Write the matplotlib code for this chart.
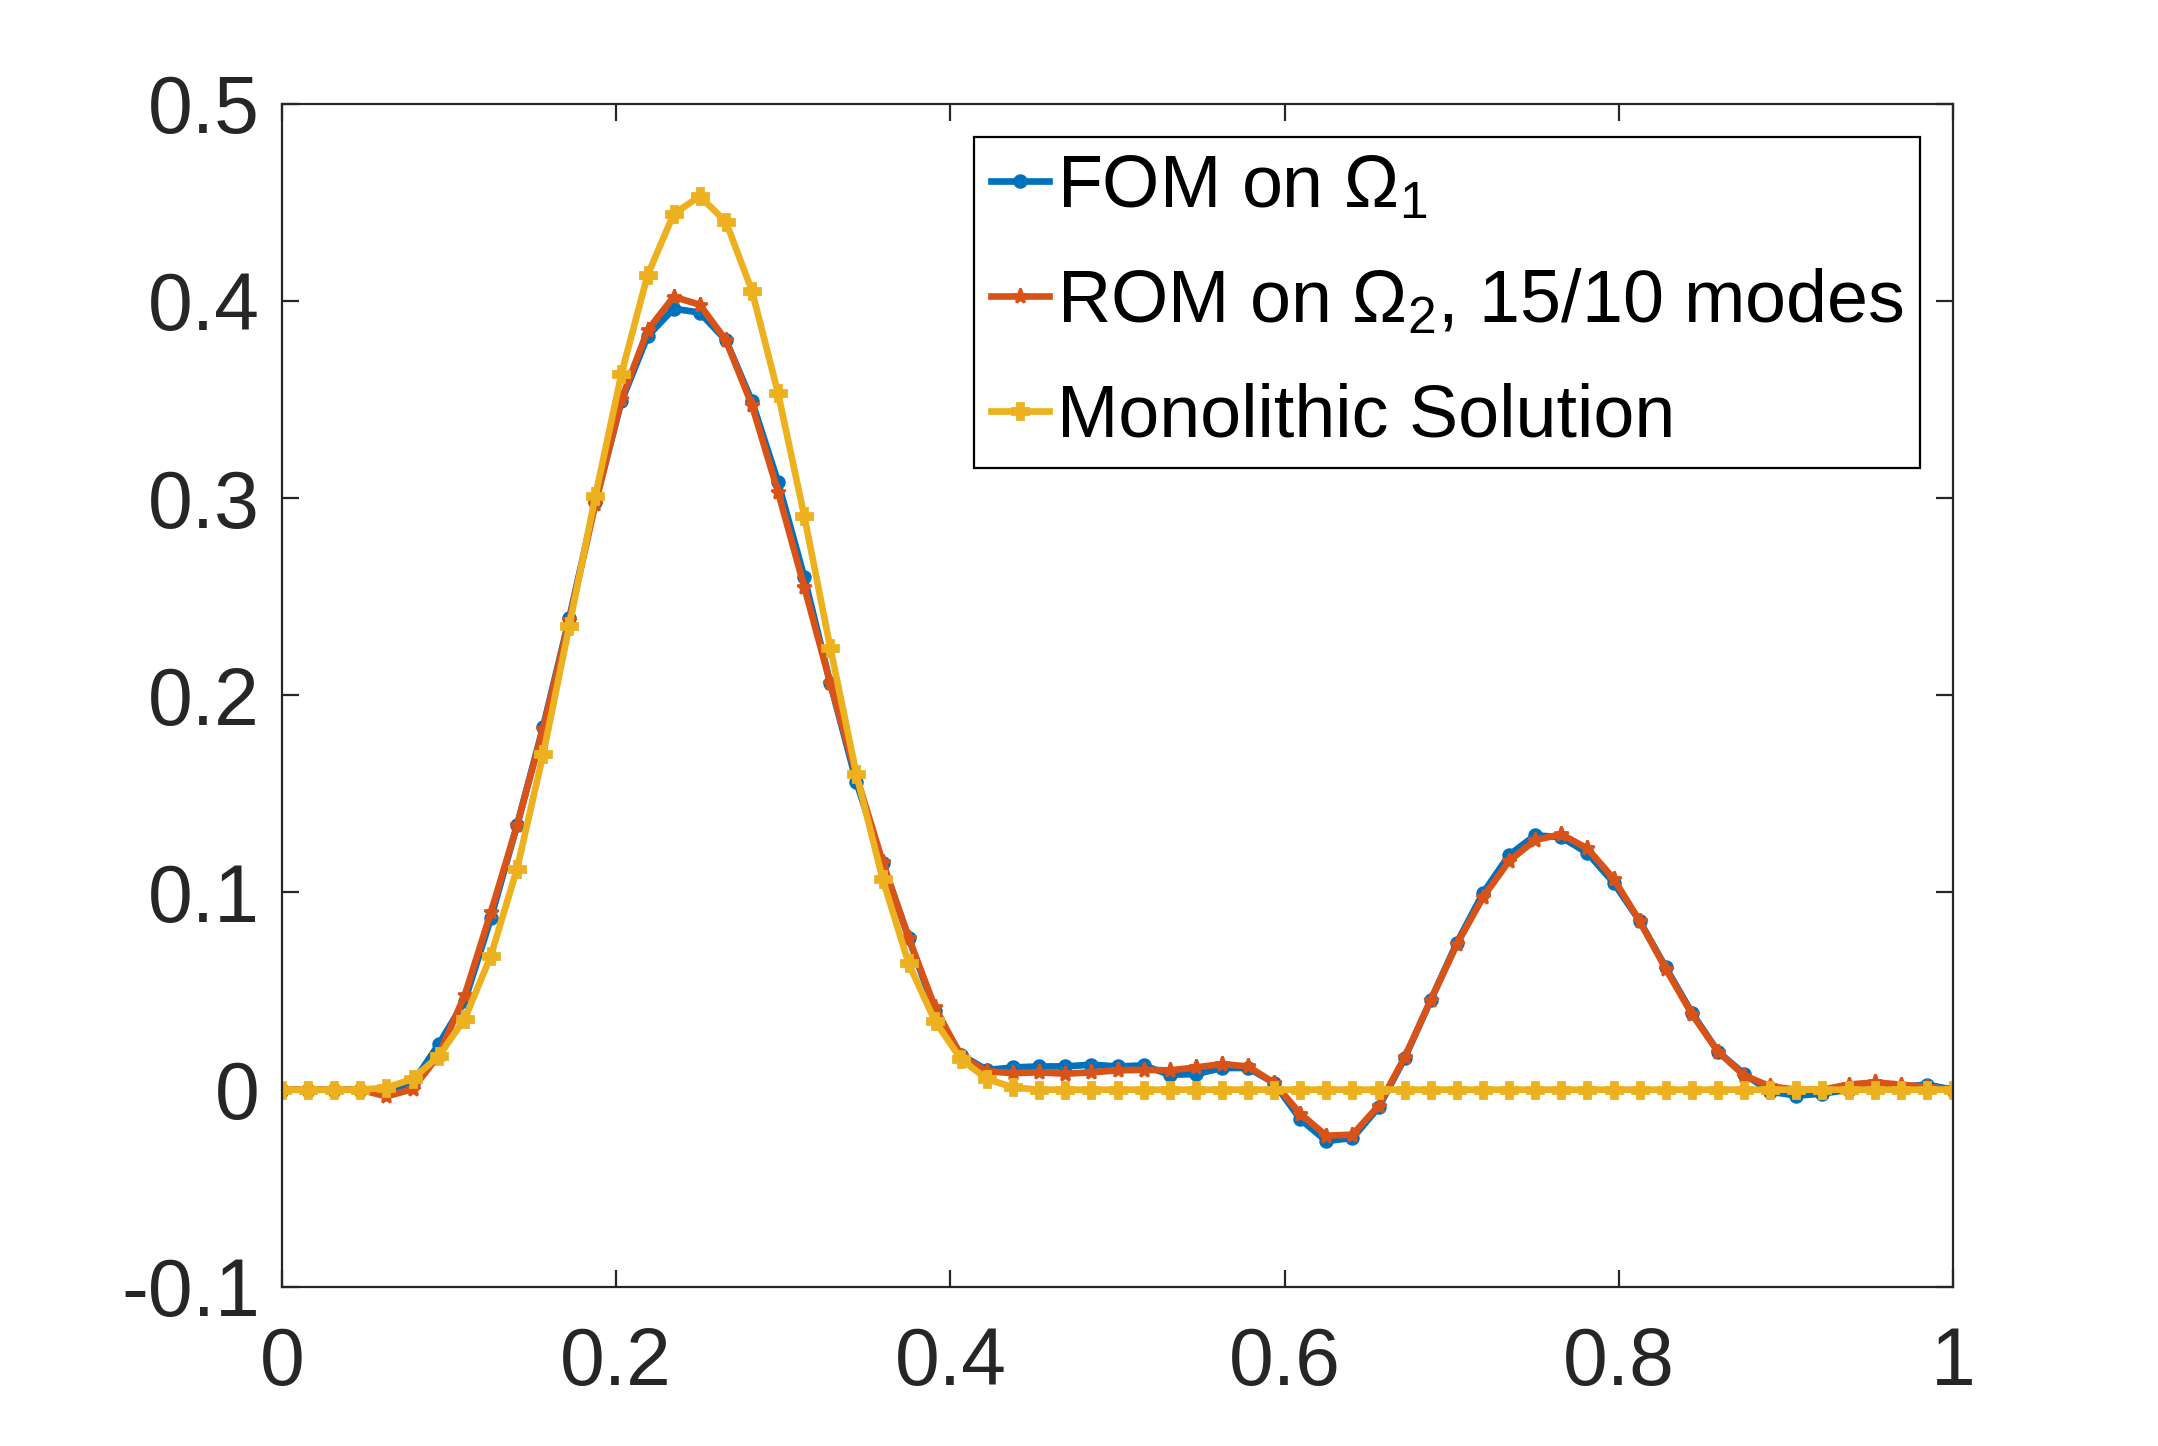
import matplotlib
matplotlib.use("Agg")
import matplotlib.pyplot as plt
import numpy as np

plt.rcParams['font.family'] = ['Liberation Sans', 'DejaVu Sans']
plt.rcParams['mathtext.fontset'] = 'custom'
plt.rcParams['mathtext.rm'] = 'Liberation Sans'
plt.rcParams['mathtext.it'] = 'Liberation Sans'

n_pts = 65
x = np.linspace(0, 1, n_pts)

fom = [0, 0, 0, 0, 0, 0.0034, 0.023, 0.045, 0.087, 0.134, 0.184, 0.239, 0.298,
       0.349, 0.382, 0.396, 0.394, 0.380, 0.349, 0.308, 0.260, 0.206, 0.156,
       0.115, 0.077, 0.040, 0.0177, 0.010, 0.0113, 0.0118, 0.0118, 0.0127,
       0.0118, 0.0123, 0.0076, 0.0079, 0.011, 0.011, 0.0034, -0.015, -0.026,
       -0.0245, -0.009, 0.016, 0.0455, 0.0746, 0.0997, 0.119, 0.129, 0.128,
       0.120, 0.105, 0.0855, 0.062, 0.039, 0.0193, 0.008, -0.001, -0.003,
       -0.002, 0, 0.0014, 0.0014, 0.0026, 0]

rom = [0, 0, 0, 0, -0.0034, 0.0003, 0.0175, 0.048, 0.090, 0.134, 0.183, 0.238,
       0.297, 0.350, 0.385, 0.402, 0.398, 0.380, 0.347, 0.303, 0.255, 0.206,
       0.159, 0.1156, 0.077, 0.042, 0.017, 0.0093, 0.0084, 0.0088, 0.0081,
       0.0088, 0.0098, 0.0101, 0.0098, 0.0113, 0.013, 0.0118, 0.0034, -0.0122,
       -0.0233, -0.0228, -0.0081, 0.0165, 0.0455, 0.0738, 0.0976, 0.116,
       0.1266, 0.1295, 0.1223, 0.107, 0.0855, 0.0613, 0.0383, 0.0193, 0.0072,
       0.0017, 0, 0, 0.0026, 0.0037, 0.0026, 0.0014, 0]

mono = [0, 0, 0, 0, 0.001, 0.0055, 0.017, 0.036, 0.068, 0.112, 0.170, 0.235,
        0.301, 0.363, 0.413, 0.444, 0.453, 0.440, 0.405, 0.353, 0.291, 0.224,
        0.160, 0.107, 0.064, 0.035, 0.0155, 0.0054, 0.0012] + [0] * 36

labels = [r'FOM on $\Omega_1$', r'ROM on $\Omega_2$, 15/10 modes', 'Monolithic Solution']
colors = ['#0072BD', '#D95319', '#EDB120']

fig = plt.figure(figsize=(2158 / 200, 1446 / 200), dpi=200)
ax = fig.add_axes([0.1307, 0.110, 0.905 - 0.1307, 0.9284 - 0.110])

ax.plot(x, fom, '-o', color=colors[0], lw=2.4, ms=4.2, label=labels[0])
ax.plot(x, rom, '-*', color=colors[1], lw=2.4, ms=5.5, label=labels[1])
ax.plot(x, mono, '-P', color=colors[2], lw=2.4, ms=6, label=labels[2])

ax.set_xlim(0, 1)
ax.set_ylim(-0.1, 0.5)
ax.set_xticks([0, 0.2, 0.4, 0.6, 0.8, 1])
ax.set_xticklabels(['0', '0.2', '0.4', '0.6', '0.8', '1'])
ax.set_yticks([-0.1, 0, 0.1, 0.2, 0.3, 0.4, 0.5])
ax.set_yticklabels(['-0.1', '0', '0.1', '0.2', '0.3', '0.4', '0.5'])

ax.tick_params(direction='in', length=6, width=0.8, top=True, right=True,
               labelsize=29, colors='#262626')
ax.tick_params(axis='x', pad=14)
ax.tick_params(axis='y', pad=8)
for s in ax.spines.values():
    s.set_color('#262626')
    s.set_linewidth(0.8)

leg = ax.legend(loc='upper right', fontsize=26.5, fancybox=False, framealpha=1,
                edgecolor='#000000', handlelength=0.8, handletextpad=0.1,
                borderaxespad=0.45, labelspacing=0.62, borderpad=0.22)
leg.get_frame().set_linewidth(0.8)

fig.savefig('out.png', dpi=200)
